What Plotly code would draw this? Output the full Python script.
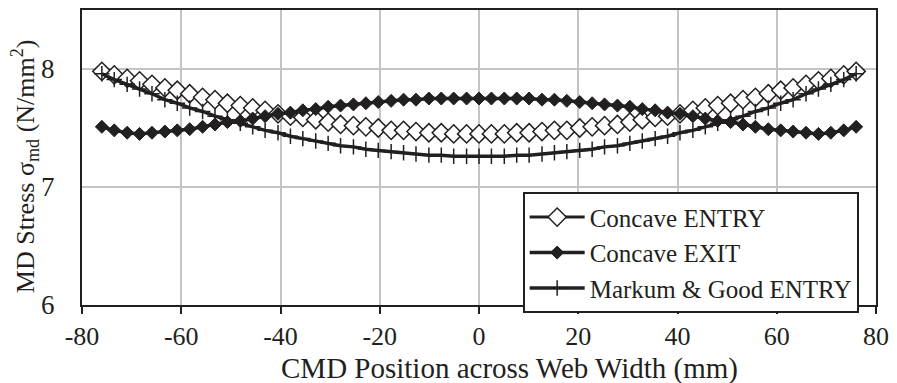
import plotly.graph_objects as go

# CMD positions across the web (mm)
x_pos = [-76.0, -73.5, -70.9, -68.4, -65.9, -63.3, -60.8, -58.3, -55.7, -53.2,
         -50.7, -48.1, -45.6, -43.1, -40.5, -38.0, -35.5, -32.9, -30.4, -27.9,
         -25.3, -22.8, -20.3, -17.7, -15.2, -12.7, -10.1, -7.6, -5.1, -2.5,
         0.0,
         2.5, 5.1, 7.6, 10.1, 12.7, 15.2, 17.7, 20.3, 22.8, 25.3,
         27.9, 30.4, 32.9, 35.5, 38.0, 40.5, 43.1, 45.6, 48.1, 50.7,
         53.2, 55.7, 58.3, 60.8, 63.3, 65.9, 68.4, 70.9, 73.5, 76.0]

# MD stress (N/mm^2)
concave_entry = [7.98, 7.95, 7.92, 7.90, 7.87, 7.84, 7.82, 7.79, 7.76, 7.74,
                 7.71, 7.69, 7.67, 7.65, 7.62, 7.60, 7.59, 7.57, 7.55, 7.53,
                 7.52, 7.51, 7.50, 7.48, 7.48, 7.47, 7.46, 7.46, 7.45, 7.45,
                 7.45,
                 7.45, 7.45, 7.46, 7.46, 7.47, 7.48, 7.48, 7.50, 7.51, 7.52,
                 7.53, 7.55, 7.57, 7.59, 7.60, 7.62, 7.65, 7.67, 7.69, 7.71,
                 7.74, 7.76, 7.79, 7.82, 7.84, 7.87, 7.90, 7.92, 7.95, 7.98]

concave_exit = [7.51, 7.48, 7.46, 7.45, 7.46, 7.47, 7.48, 7.49, 7.51, 7.53,
                7.55, 7.56, 7.58, 7.60, 7.62, 7.63, 7.65, 7.66, 7.68, 7.69,
                7.70, 7.71, 7.72, 7.73, 7.74, 7.74, 7.75, 7.75, 7.75, 7.75,
                7.75,
                7.75, 7.75, 7.75, 7.75, 7.74, 7.74, 7.73, 7.72, 7.71, 7.70,
                7.69, 7.68, 7.66, 7.65, 7.63, 7.62, 7.60, 7.58, 7.56, 7.55,
                7.53, 7.51, 7.49, 7.48, 7.47, 7.46, 7.45, 7.46, 7.48, 7.51]

markum_good_entry = [7.96, 7.91, 7.87, 7.83, 7.79, 7.74, 7.71, 7.67, 7.64, 7.60,
                     7.57, 7.54, 7.51, 7.48, 7.46, 7.43, 7.41, 7.39, 7.37, 7.35,
                     7.34, 7.32, 7.31, 7.30, 7.29, 7.28, 7.27, 7.27, 7.26, 7.26,
                     7.26,
                     7.26, 7.26, 7.27, 7.27, 7.28, 7.29, 7.30, 7.31, 7.32, 7.34,
                     7.35, 7.37, 7.39, 7.41, 7.43, 7.46, 7.48, 7.51, 7.54, 7.57,
                     7.60, 7.64, 7.67, 7.71, 7.74, 7.79, 7.83, 7.87, 7.91, 7.96]

series_names = ["Concave ENTRY", "Concave EXIT", "Markum & Good ENTRY"]
x_ticks = [-80, -60, -40, -20, 0, 20, 40, 60, 80]
y_ticks = [6, 7, 8]

FONT = "Liberation Serif"
INK = "#231f20"

fig = go.Figure()

fig.add_trace(go.Scatter(
    x=x_pos, y=concave_entry, name=series_names[0], mode="lines+markers",
    line=dict(color=INK, width=3),
    marker=dict(symbol="diamond", size=14, color="white",
                line=dict(color=INK, width=1.5)),
))
fig.add_trace(go.Scatter(
    x=x_pos, y=concave_exit, name=series_names[1], mode="lines+markers",
    line=dict(color=INK, width=3.5),
    marker=dict(symbol="diamond", size=10, color=INK,
                line=dict(color=INK, width=1)),
))
fig.add_trace(go.Scatter(
    x=x_pos, y=markum_good_entry, name=series_names[2], mode="lines+markers",
    line=dict(color=INK, width=3.5),
    marker=dict(symbol="cross-thin-open", size=11,
                line=dict(color=INK, width=1.5)),
))

fig.update_layout(
    width=897, height=383,
    margin=dict(l=82, r=20, t=8, b=78),
    paper_bgcolor="white", plot_bgcolor="white",
    font=dict(family=FONT, color=INK, size=25),
    showlegend=True,
    legend=dict(
        x=0.555, y=0.382, xanchor="left", yanchor="top",
        bgcolor="white", bordercolor=INK, borderwidth=2,
        font=dict(family=FONT, size=25, color=INK),
        itemwidth=55, tracegroupgap=0,
    ),
    annotations=[
        dict(text="CMD Position across Web Width (mm)", xref="paper", yref="paper",
             x=0.538, y=-0.215, xanchor="center", yanchor="middle",
             showarrow=False, font=dict(family=FONT, size=29, color=INK)),
        dict(text="MD Stress σ<sub>md</sub> (N/mm<sup>2</sup>)", xref="paper", yref="paper",
             x=-0.0717, y=0.471, xanchor="center", yanchor="middle", textangle=-90,
             showarrow=False, font=dict(family=FONT, size=26, color=INK)),
    ],
)

fig.update_xaxes(
    range=[-80, 80], tickvals=x_ticks, ticktext=[str(v) for v in x_ticks],
    showgrid=True, gridcolor="#c4c4c4", gridwidth=1.5,
    showline=True, linecolor=INK, linewidth=2, mirror=True,
    ticks="outside", ticklen=7, tickwidth=1.5, tickcolor=INK,
    ticklabelstandoff=0, zeroline=False,
    tickfont=dict(family=FONT, size=26, color=INK),
)
fig.update_yaxes(
    range=[6, 8.5], tickvals=y_ticks, ticktext=[str(v) for v in y_ticks],
    showgrid=True, gridcolor="#c4c4c4", gridwidth=1.5,
    showline=True, linecolor=INK, linewidth=2, mirror=True,
    ticks="", ticklabelstandoff=20, zeroline=False,
    tickfont=dict(family=FONT, size=27, color=INK),
)

fig.write_html("out.html")
